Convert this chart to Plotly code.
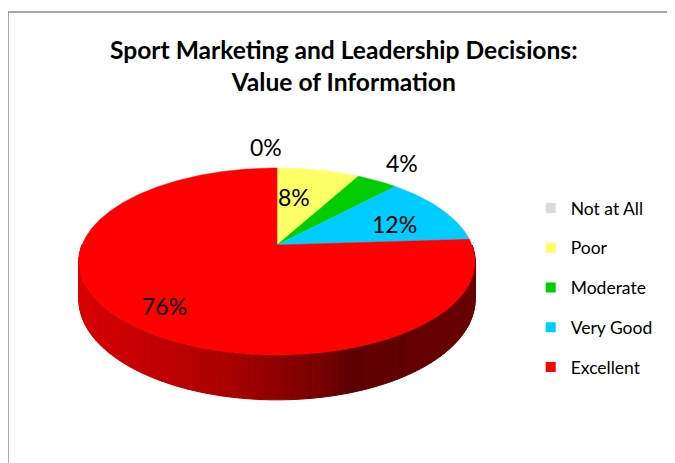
import numpy as np
import plotly.graph_objects as go

# ---------------- data ----------------
categories = ["Not at All", "Poor", "Moderate", "Very Good", "Excellent"]
values = [0, 8, 4, 12, 76]
colors = ["#D9D9D9", "#FFFF66", "#00CC00", "#00CCFF", "#FF0000"]
title_text = "Sport Marketing and Leadership Decisions:<br>Value of Information"

# ---------------- geometry / style ----------------
W, H = 675, 463
OFF = 8                    # page body margin of the browser
CX, CY = 277.0, 245.0      # projected apex of the pie
RX, RY = 195.0, 90.6       # radii of the top face
K = -0.176                 # perspective factor
DEPTH = 37.0               # thickness of the pie
FONT = "Lato"

# label placement (radius factor, pixel nudges) per slice - style only
label_r = [1.28, 0.62, 1.22, 0.62, 0.80]
label_shift = [(-11, 3.5), (-10, -1), (6, 6), (12.5, -2), (6, -2.5)]


def proj(X, Y, z=0.0):
    w = 1.0 + K * Y
    return CX + RX * X / w, CY + RY * Y / w + z * DEPTH / w


def circ(theta_deg, r=1.0, z=0.0):
    t = np.radians(theta_deg)
    return proj(r * np.sin(t), -r * np.cos(t), z)


def wall_color(x):
    xs = [78, 227, 327, 350, 475]
    rs = [0xD8, 0xAA, 0x72, 0x5E, 0x68]
    r = int(round(np.interp(x, xs, rs)))
    return f"rgb({r},0,0)"


total = float(sum(values))
starts = np.concatenate([[0.0], np.cumsum(values)[:-1]]) / total * 360.0
ends = np.cumsum(values) / total * 360.0

fig = go.Figure()

# ---- side wall (front half), drawn as thin shaded strips ----
steps = np.linspace(90.0, 270.0, 121)
for a0, a1 in zip(steps[:-1], steps[1:]):
    mid = 0.5 * (a0 + a1)
    idx = min(int(np.searchsorted(ends, mid)), len(values) - 1)
    t0x, t0y = circ(a0)
    t1x, t1y = circ(a1)
    b1x, b1y = circ(a1, z=1.0)
    b0x, b0y = circ(a0, z=1.0)
    c = wall_color(0.5 * (t0x + t1x)) if idx == len(values) - 1 else colors[idx]
    fig.add_trace(go.Scatter(
        x=[t0x, t1x, b1x, b0x, t0x], y=[t0y, t1y, b1y, b0y, t0y],
        mode="lines", fill="toself", fillcolor=c,
        line=dict(color=c, width=1), hoverinfo="skip", showlegend=False))

# ---- top face wedges ----
for cat, v, col, a0, a1 in zip(categories, values, colors, starts, ends):
    if v <= 0:
        continue
    th = np.linspace(a0, a1, max(4, int((a1 - a0) * 2)))
    xs, ys = circ(th)
    px = np.concatenate([[CX], xs, [CX]])
    py = np.concatenate([[CY], ys, [CY]])
    fig.add_trace(go.Scatter(
        x=px, y=py, mode="lines", fill="toself", fillcolor=col,
        line=dict(color=col, width=0.5), hoverinfo="skip", showlegend=False))

# ---- legend entries ----
for cat, col in zip(categories, colors):
    fig.add_trace(go.Scatter(
        x=[None], y=[None], mode="markers", name=cat, legendgroup=cat,
        marker=dict(symbol="square", size=10, color=col)))

# ---- data labels ----
for v, a0, a1, r, (dx, dy) in zip(values, starts, ends, label_r, label_shift):
    lx, ly = circ(0.5 * (a0 + a1), r=r)
    fig.add_annotation(x=lx, y=ly, text=f"{v}%", showarrow=False,
                       xshift=dx, yshift=dy,
                       font=dict(family=FONT, size=23, color="#000000"))

# ---- title ----
fig.add_annotation(x=344, y=65, xref="x", yref="y", text=title_text,
                   showarrow=False, xanchor="center", yanchor="middle",
                   font=dict(family=FONT, size=24.6, color="#000000",
                             weight="bold"))

# ---- chart frame ----
fig.add_shape(type="rect", x0=8, y0=12, x1=W + 20, y1=H + 20,
              xref="x", yref="y", line=dict(color="#8C8C8C", width=1.5),
              layer="below")

fig.update_layout(
    width=W, height=H,
    margin=dict(l=0, r=0, t=0, b=0),
    paper_bgcolor="white", plot_bgcolor="white",
    xaxis=dict(range=[OFF, W + OFF], visible=False, fixedrange=True),
    yaxis=dict(range=[H + OFF, OFF], visible=False, fixedrange=True),
    legend=dict(x=(530.7 - OFF) / W, y=1 - (190 - OFF) / H,
                xanchor="left", yanchor="top",
                font=dict(family=FONT, size=17.5, color="#000000"),
                tracegroupgap=14, bgcolor="rgba(0,0,0,0)"),
    showlegend=True,
)

fig.write_html("out.html")
